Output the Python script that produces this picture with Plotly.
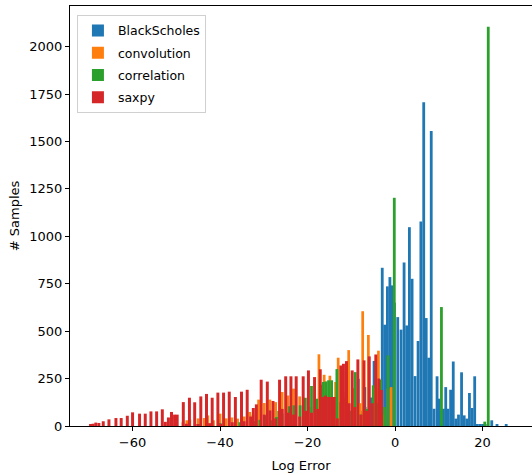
import plotly.graph_objects as go

# ---------------- data ----------------
bs_x = [-8.4, -7.6, -6.9, -6.2, -5.5, -4.8, -4.2, -3.5, -2.93, -2.36, -1.75, -1.18, -0.72, -0.15,
        0.61, 1.37, 2.06, 2.67, 3.28, 3.89, 4.57, 5.26, 5.9, 6.55, 7.12, 7.7, 8.27, 8.91,
        9.6, 10.1, 10.6, 11.05, 11.58, 12.1, 12.7, 13.3, 13.9, 14.5, 15.2, 15.8, 16.4,
        17.0, 17.6, 18.2, 18.8, 19.4, 20.0, 20.6, 22.1, 23.3, 25.4]
bs_y = [249, 80, 205, 100, 150, 343, 200, 150, 834, 534, 736, 785, 741, 650,
        574, 508, 862, 530, 1048, 776, 263, 448, 1078, 1707, 569, 360, 1555, 91,
        262, 144, 80, 91, 205, 91, 191, 340, 39, 60, 283, 56, 39,
        174, 95, 262, 10, 8, 10, 8, 30, 7, 7]

conv_x = [-48.5, -47.6, -46.9, -45.0, -43.6, -42.8, -41.5, -40.0, -38.6, -37.3, -36.0, -34.5,
          -33.2, -32.5, -31.2, -29.9, -28.6, -27.3, -25.8, -24.5, -23.2, -21.8, -20.5, -19.2,
          -18.0, -17.4, -16.2, -14.9, -13.6, -13.0, -11.7, -10.6, -9.3, -8.0, -7.4, -6.1,
          -4.8, -3.8, -2.5, -1.6, -0.9]
conv_y = [20, 30, 34, 40, 42, 56, 30, 65, 40, 45, 39, 50,
          74, 60, 139, 121, 139, 126, 179, 161, 197, 156, 60, 100,
          100, 378, 270, 265, 232, 360, 150, 400, 200, 120, 605, 480,
          200, 397, 60, 197, 205]

corr_x = [-44.5, -40.0, -35.5, -32.0, -30.9, -29.7, -28.4, -27.1, -26.6, -25.8, -24.2, -23.1,
          -21.7, -20.5, -19.1, -17.9, -17.0, -16.4, -15.8, -15.2, -14.5, -13.3, -12.4, -11.2,
          -10.4, -9.1, -7.8, -6.5, -5.0, -4.2, -3.3, -2.4, -1.6, -0.18, 10.6, 20.5, 21.3]
corr_y = [10, 15, 20, 25, 33, 56, 30, 47, 79, 65, 104, 109,
          109, 149, 211, 144, 218, 232, 235, 241, 241, 300, 126, 179,
          80, 284, 60, 90, 214, 120, 244, 100, 372, 1203, 627, 23, 2105]

saxpy_x = [-69.6, -69.0, -68.4, -67.7, -66.7, -65.4, -63.8, -62.6, -61.2, -60.0, -58.4, -57.1,
           -55.8, -54.5, -53.2, -52.5, -51.8, -51.1, -50.4, -49.8, -48.4, -47.7, -47.0, -45.8,
           -45.1, -44.4, -43.1, -42.4, -41.8, -40.5, -39.9, -39.2, -37.9, -37.2, -36.5, -35.1,
           -34.5, -33.8, -33.0, -32.4, -31.7, -30.6, -29.9, -29.2, -28.6, -27.9, -27.3, -26.4,
           -25.8, -25.0, -24.4, -23.8, -23.2, -22.6, -21.8, -21.0, -20.4, -19.8, -19.1, -18.4,
           -17.7, -17.1, -16.5, -15.9, -15.2, -14.5, -13.9, -13.2, -12.4, -11.8, -11.1, -10.5,
           -9.8, -9.2, -8.5, -7.8, -7.1, -6.5, -5.9, -5.2, -4.4, -3.7, -3.1]
saxpy_y = [6, 12, 18, 16, 25, 35, 42, 42, 54, 72, 65, 65,
           77, 77, 88, 22, 45, 74, 60, 60, 126, 12, 149, 125,
           10, 156, 169, 15, 149, 176, 12, 176, 181, 20, 153, 181,
           25, 191, 50, 95, 114, 244, 60, 234, 82, 132, 40, 244,
           90, 262, 70, 262, 60, 262, 50, 262, 80, 293, 70, 258,
           90, 299, 153, 160, 153, 153, 153, 40, 319, 328, 342, 120,
           293, 100, 351, 60, 346, 80, 367, 120, 377, 250, 190]

series = [
    ("BlackScholes", bs_x, bs_y, "#1f77b4", 0.64),
    ("convolution", conv_x, conv_y, "#ff7f0e", 0.62),
    ("correlation", corr_x, corr_y, "#2ca02c", 0.64),
    ("saxpy", saxpy_x, saxpy_y, "#d62728", 0.68),
]

x_ticks = [-60, -40, -20, 0, 20]
y_ticks = [0, 250, 500, 750, 1000, 1250, 1500, 1750, 2000]

# ---------------- figure ----------------
fig = go.Figure()
for name, xs, ys, color, w in series:
    fig.add_trace(go.Bar(
        x=xs, y=ys, name=name, width=w, legendgroup=name,
        marker=dict(color=color, line=dict(width=0)),
    ))

font = dict(family="DejaVu Sans", size=13, color="black")
fig.update_layout(
    width=532, height=475,
    margin=dict(l=70, r=0, t=6, b=49, autoexpand=False),
    paper_bgcolor="white", plot_bgcolor="white",
    barmode="overlay",
    font=font,
    showlegend=True,
    legend=dict(
        x=0.015, y=0.979, xanchor="left", yanchor="top",
        bgcolor="white", bordercolor="#d0d0d0", borderwidth=1,
        font=dict(family="DejaVu Sans", size=12.5, color="black"),
        traceorder="grouped", tracegroupgap=3,
    ),
    xaxis=dict(
        range=[-74.3, 31.3], tickvals=x_ticks,
        ticktext=["\u221260", "\u221240", "\u221220", "0", "20"],
        showgrid=False, zeroline=False, automargin=False,
        showline=True, linecolor="black", linewidth=1, mirror=True,
        ticks="outside", ticklen=4, tickcolor="black",
        title=dict(text="Log Error", font=font, standoff=12),
    ),
    yaxis=dict(
        range=[0, 2214], tickvals=y_ticks,
        showgrid=False, zeroline=False, automargin=False,
        showline=True, linecolor="black", linewidth=1, mirror=False,
        ticks="outside", ticklen=4, tickcolor="black",
        title=dict(text="# Samples", font=font, standoff=6),
    ),
)

fig.write_html("out.html", config={"displayModeBar": False},
               post_script="document.body.style.margin='0px';")
